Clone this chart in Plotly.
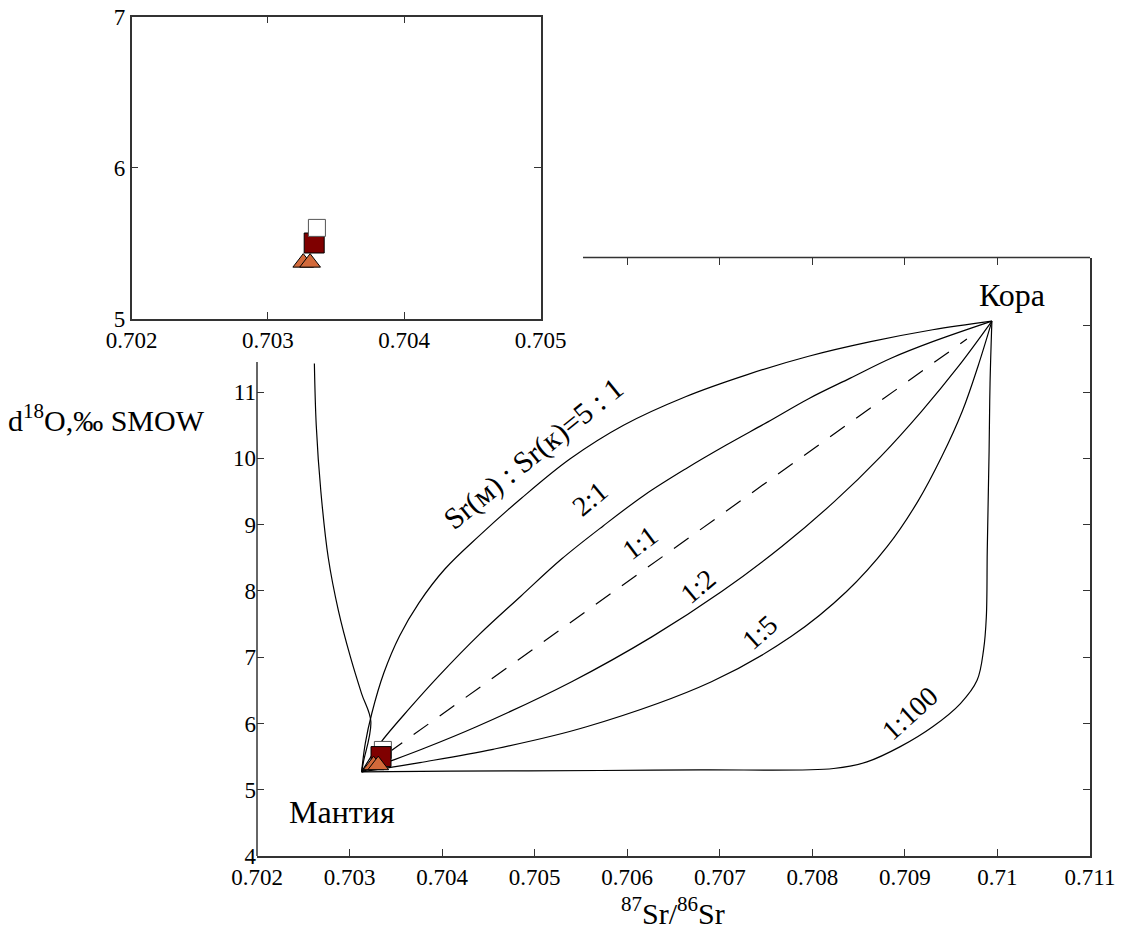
import plotly.graph_objects as go

W, H = 1126, 930

# ---------------- data ----------------
mantle_x, mantle_y = 0.70313, 5.27
crust_x, crust_y = 0.70994, 12.07

# mixing curve Sr(m):Sr(k) = 5:1
mix51_x = [0.70313, 0.70317, 0.70324, 0.70337, 0.70354, 0.70375, 0.70403, 0.70440,
           0.70485, 0.70538, 0.70596, 0.70663, 0.70729, 0.70796, 0.70863, 0.70930, 0.70994]
mix51_y = [5.27, 5.70, 6.15, 6.76, 7.32, 7.82, 8.33, 8.83,
           9.39, 9.99, 10.50, 10.93, 11.26, 11.54, 11.76, 11.94, 12.07]
# 2:1
mix21_x = [0.70313, 0.70333, 0.70365, 0.70396, 0.70440, 0.70485, 0.70529, 0.70574,
           0.70618, 0.70663, 0.70707, 0.70752, 0.70796, 0.70841, 0.70885, 0.70930, 0.70994]
mix21_y = [5.27, 5.70, 6.23, 6.71, 7.34, 7.92, 8.48, 8.98,
           9.44, 9.84, 10.20, 10.55, 10.90, 11.21, 11.51, 11.76, 12.07]
# 1:1 (dashed)
mix11_x = [0.70313, 0.70967]
mix11_y = [5.27, 11.80]
# 1:2
mix12_x = [0.70313, 0.70340, 0.70378, 0.70437, 0.70540, 0.70627, 0.70702, 0.70767,
           0.70824, 0.70874, 0.70918, 0.70958, 0.70994]
mix12_y = [5.27, 5.41, 5.61, 5.95, 6.63, 7.31, 7.99, 8.67,
           9.35, 10.03, 10.71, 11.39, 12.07]
# 1:5
mix15_x = [0.70313, 0.70346, 0.70376, 0.70455, 0.70556, 0.70691, 0.70777, 0.70837,
           0.70881, 0.70914, 0.70940, 0.70962, 0.70979, 0.70994]
mix15_y = [5.27, 5.34, 5.41, 5.61, 5.95, 6.63, 7.31, 7.99,
           8.67, 9.35, 10.03, 10.71, 11.39, 12.07]
# 1:100
mix1100_x = [0.70313, 0.70409, 0.70571, 0.70679, 0.70823, 0.70859, 0.70895, 0.70930,
             0.70960, 0.70978, 0.70985, 0.70988, 0.70989, 0.70991, 0.70992, 0.70994]
mix1100_y = [5.27, 5.28, 5.29, 5.30, 5.32, 5.42, 5.65, 5.95,
             6.30, 6.65, 7.11, 7.61, 8.61, 10.12, 11.13, 12.07]
# steep curve on the left
left_x = [0.70262, 0.70264, 0.70269, 0.70277, 0.70288, 0.70301, 0.70313, 0.70323, 0.70315, 0.70313]
left_y = [11.43, 10.50, 9.50, 8.50, 7.70, 7.00, 6.45, 6.03, 5.42, 5.27]

# samples
open_sq_x, open_sq_y = [0.70336], [5.60]
dark_sq_x, dark_sq_y = [0.70334], [5.50]
tri_x, tri_y = [0.70326, 0.70331], [5.37, 5.37]

# ticks
main_xticks = [0.702, 0.703, 0.704, 0.705, 0.706, 0.707, 0.708, 0.709, 0.710, 0.711]
main_xtext = ["0.702", "0.703", "0.704", "0.705", "0.706", "0.707", "0.708", "0.709", "0.71", "0.711"]
main_yticks = [4, 5, 6, 7, 8, 9, 10, 11]
top_xticks = [0.706, 0.707, 0.708, 0.709, 0.710]
right_yticks = [5, 6, 7, 8, 9, 10, 11, 12]
inset_xticks = [0.702, 0.703, 0.704, 0.705]
inset_xtext = ["0.702", "0.703", "0.704", "0.705"]
inset_yticks = [5, 6, 7]

# curve labels: (text, x, y, angle, size)
curve_labels = [
    ("Sr(м) : Sr(к)=5 : 1", 0.70498, 10.07, -39, 30),
    ("2:1", 0.70560, 9.39, -40, 28),
    ("1:1", 0.70614, 8.73, -37, 28),
    ("1:2", 0.70676, 8.07, -40, 28),
    ("1:5", 0.70743, 7.37, -42, 28),
    ("1:100", 0.70905, 6.15, -42, 28),
]
place_labels = [("Кора", 0.71016, 12.46), ("Мантия", 0.70292, 4.66)]

# ---------------- layout geometry (pixels in the 1126x930 window) ----------------
FONT = "Liberation Serif"
OFF = 8  # page body margin
def px_x(p):
    return (p - OFF) / W
def px_y(p):
    return 1 - (p - OFF) / H

main_l, main_r, main_t, main_b = 257, 1090, 257.5, 856
ins_l, ins_r, ins_t, ins_b = 131.5, 540.5, 16.5, 318.5

fig = go.Figure()

line_style = dict(color="black", width=1.2)
for xs, ys in [(mix51_x, mix51_y), (mix21_x, mix21_y), (mix12_x, mix12_y),
               (mix15_x, mix15_y), (mix1100_x, mix1100_y), (left_x, left_y)]:
    fig.add_trace(go.Scatter(x=xs, y=ys, mode="lines", line=dict(shape="spline", smoothing=1.0, **line_style),
                             showlegend=False, hoverinfo="skip", xaxis="x", yaxis="y"))
fig.add_trace(go.Scatter(x=mix11_x, y=mix11_y, mode="lines",
                         line=dict(color="black", width=1.2, dash="18px,14px"),
                         showlegend=False, hoverinfo="skip", xaxis="x", yaxis="y"))

def sq(xs, ys, color, lc, size, ax, ay):
    return go.Scatter(x=xs, y=ys, mode="markers", xaxis=ax, yaxis=ay, showlegend=False,
                      hoverinfo="skip",
                      marker=dict(symbol="square", size=size, color=color, line=dict(color=lc, width=1)))

def tri(ax, ay):
    return go.Scatter(x=tri_x, y=tri_y, mode="markers", xaxis=ax, yaxis=ay, showlegend=False,
                      hoverinfo="skip",
                      marker=dict(symbol="triangle-up", size=18, color="#D2693A",
                                  line=dict(color="black", width=1)))

# main plot markers
fig.add_trace(sq(open_sq_x, open_sq_y, "white", "#555555", 17, "x", "y"))
fig.add_trace(sq(dark_sq_x, dark_sq_y, "#7F0000", "black", 20, "x", "y"))
fig.add_trace(tri("x", "y"))
# inset markers
fig.add_trace(sq(dark_sq_x, dark_sq_y, "#7F0000", "black", 20, "x2", "y2"))
fig.add_trace(sq(open_sq_x, open_sq_y, "white", "#555555", 17, "x2", "y2"))
fig.add_trace(tri("x2", "y2"))
# invisible trace carrying the top/right tick axes
fig.add_trace(go.Scatter(x=[0.7065], y=[8], mode="markers", marker=dict(opacity=0),
                         xaxis="x3", yaxis="y3", showlegend=False, hoverinfo="skip"))

tickfont = dict(family=FONT, size=23, color="black")
axcommon = dict(showgrid=False, zeroline=False, ticks="inside", ticklen=7, tickwidth=1.2,
                tickcolor="#333333", tickfont=tickfont, automargin=False,
                ticklabeloverflow="allow")

fig.update_layout(
    width=W, height=H, autosize=False,
    margin=dict(l=0, r=0, t=0, b=0, pad=0, autoexpand=False),
    paper_bgcolor="white", plot_bgcolor="white",
    font=dict(family=FONT, color="black"),
    xaxis=dict(domain=[px_x(main_l), px_x(main_r)], range=[0.702, 0.711], anchor="y",
               tickvals=main_xticks, ticktext=main_xtext, showline=True, linecolor="#333333",
               linewidth=1.5, **axcommon),
    yaxis=dict(domain=[px_y(main_b), px_y(main_t)], range=[4, 13.03], anchor="x",
               tickvals=main_yticks, showline=False, **axcommon),
    xaxis3=dict(domain=[px_x(main_l), px_x(main_r)], range=[0.702, 0.711], anchor="y3",
                overlaying="x", side="top", tickvals=top_xticks, showticklabels=False,
                showline=False, **axcommon),
    yaxis3=dict(domain=[px_y(main_b), px_y(main_t)], range=[4, 13.03], anchor="x3",
                overlaying="y", side="right", tickvals=right_yticks, showticklabels=False,
                showline=True, linecolor="#333333", linewidth=1.5, **axcommon),
    xaxis2=dict(domain=[px_x(ins_l), px_x(ins_r)], range=[0.702, 0.705], anchor="y2",
                tickvals=inset_xticks, ticktext=inset_xtext, showline=True, mirror="ticks",
                linecolor="#333333", linewidth=1.5, **axcommon),
    yaxis2=dict(domain=[px_y(ins_b), px_y(ins_t)], range=[5, 7], anchor="x2",
                tickvals=inset_yticks, showline=True, mirror="ticks",
                linecolor="#333333", linewidth=1.5, **axcommon),
)

# visible parts of the main frame (upper-left hidden by the inset)
fig.add_shape(type="line", xref="paper", yref="paper",
              x0=px_x(main_l), x1=px_x(main_l), y0=px_y(main_b), y1=px_y(362),
              line=dict(color="#333333", width=1.5))
fig.add_shape(type="line", xref="paper", yref="paper",
              x0=px_x(583), x1=px_x(main_r), y0=px_y(main_t), y1=px_y(main_t),
              line=dict(color="#333333", width=1.5))

for text, x, y, ang, size in curve_labels:
    fig.add_annotation(x=x, y=y, xref="x", yref="y", text=text, showarrow=False,
                       xanchor="center", yanchor="middle",
                       textangle=ang, font=dict(family=FONT, size=size, color="black"))
for text, x, y in place_labels:
    fig.add_annotation(x=x, y=y, xref="x", yref="y", text=text, showarrow=False,
                       xanchor="center", yanchor="middle",
                       font=dict(family=FONT, size=32, color="black"))

# axis titles
fig.add_annotation(x=px_x(106), y=px_y(418), xref="paper", yref="paper",
                   xanchor="center", yanchor="middle",
                   text="d<sup>18</sup>O,‰ SMOW", showarrow=False,
                   font=dict(family=FONT, size=30, color="black"))
fig.add_annotation(x=px_x(673), y=px_y(911), xref="paper", yref="paper",
                   xanchor="center", yanchor="middle",
                   text="<sup>87</sup>Sr/<sup>86</sup>Sr", showarrow=False,
                   font=dict(family=FONT, size=30, color="black"))

fig.write_html("out.html")
